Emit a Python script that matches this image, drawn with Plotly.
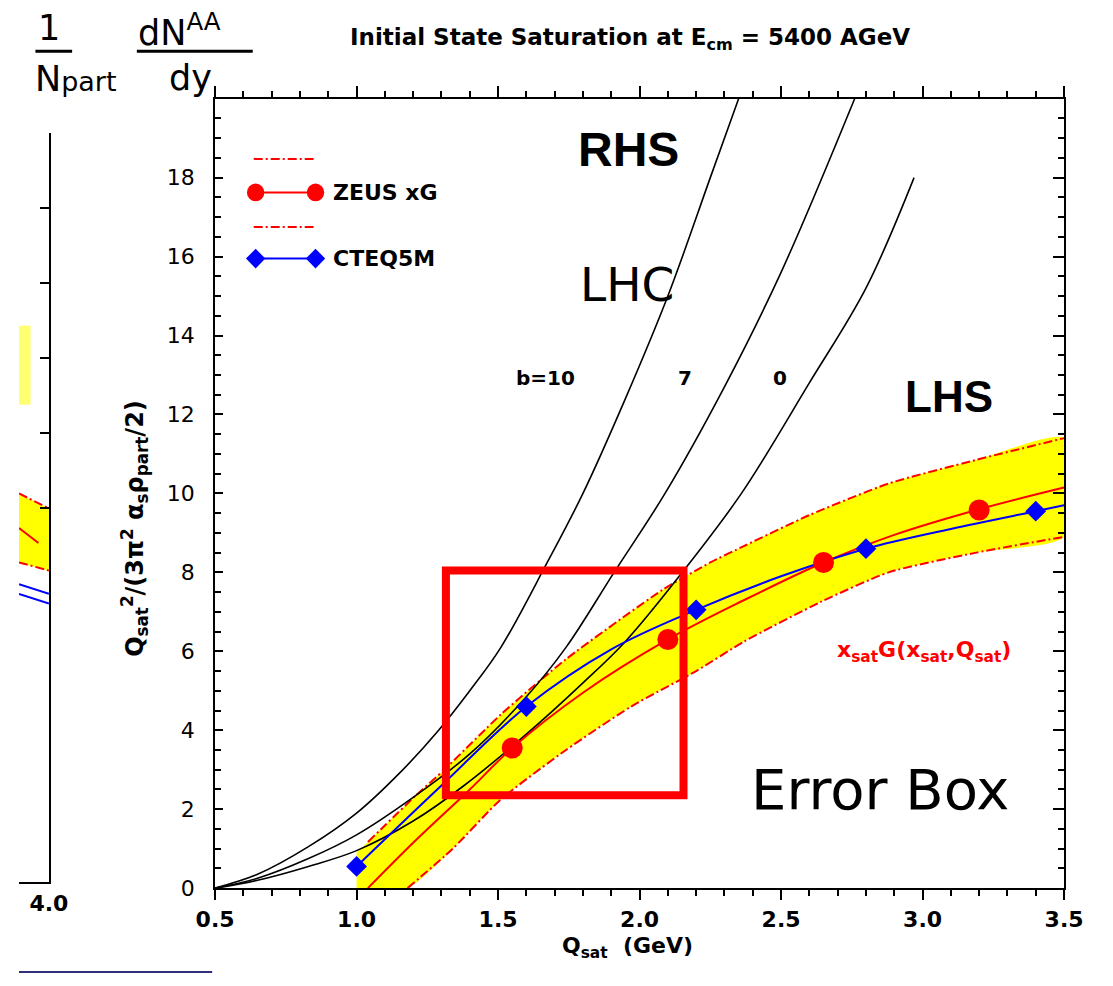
import plotly.graph_objects as go

W, H = 1113, 986

# ---------------- data ----------------
x_tick_vals = [0.5, 1.0, 1.5, 2.0, 2.5, 3.0, 3.5]
x_tick_text = ["0.5", "1.0", "1.5", "2.0", "2.5", "3.0", "3.5"]
y_tick_vals = [0, 2, 4, 6, 8, 10, 12, 14, 16, 18]
y_tick_text = ["0", "2", "4", "6", "8", "10", "12", "14", "16", "18"]

zeus_x = [1.55, 2.1, 2.65, 3.2]
zeus_y = [3.55, 6.3, 8.25, 9.58]
zeus_curve_x = [1.04, 1.2, 1.4, 1.55, 1.8, 2.1, 2.37, 2.65, 2.9, 3.2, 3.5]
zeus_curve_y = [0.0, 1.15, 2.5, 3.55, 4.95, 6.3, 7.3, 8.25, 8.95, 9.6, 10.15]

cteq_x = [1.0, 1.6, 2.2, 2.8, 3.4]
cteq_y = [0.55, 4.6, 7.05, 8.6, 9.55]
cteq_curve_x = [1.0, 1.3, 1.6, 1.9, 2.2, 2.5, 2.8, 3.1, 3.4, 3.5]
cteq_curve_y = [0.55, 2.6, 4.6, 6.05, 7.05, 7.9, 8.6, 9.1, 9.55, 9.7]

band_upper_x = [1.0, 1.04, 1.21, 1.31, 1.51, 1.74, 2.08, 2.25, 2.37, 2.6, 2.88, 3.19, 3.5]
band_upper_y = [0.9, 1.17, 2.35, 3.0, 4.4, 5.8, 7.55, 8.25, 8.67, 9.45, 10.25, 10.85, 11.4]
band_lower_x = [1.0, 1.18, 1.34, 1.51, 1.74, 1.97, 2.2, 2.37, 2.64, 2.88, 3.19, 3.5]
band_lower_y = [0.0, 0.0, 1.0, 2.25, 3.5, 4.6, 5.5, 6.25, 7.25, 8.0, 8.5, 8.9]

b10_x = [0.5, 0.65, 0.83, 1.0, 1.15, 1.29, 1.4, 1.51, 1.67, 1.8, 1.95, 2.1, 2.25, 2.35]
b10_y = [0.0, 0.35, 1.05, 1.9, 2.9, 4.0, 5.0, 6.1, 8.2, 10.0, 12.4, 15.0, 18.0, 20.0]
b7_x = [0.5, 0.65, 0.83, 1.0, 1.2, 1.4, 1.6, 1.74, 1.91, 2.09, 2.3, 2.5, 2.76]
b7_y = [0.0, 0.25, 0.75, 1.35, 2.3, 3.4, 4.85, 6.1, 8.0, 10.0, 12.7, 15.6, 20.0]
b0_x = [0.5, 0.65, 0.83, 1.0, 1.2, 1.38, 1.6, 1.8, 1.95, 2.14, 2.36, 2.6, 2.8, 2.97]
b0_y = [0.0, 0.2, 0.55, 0.95, 1.7, 2.6, 3.9, 5.2, 6.25, 7.9, 10.0, 12.8, 15.2, 18.0]

# fragment of the neighbouring panel on the left
left_x = [3.9, 4.0]
left_upper_y = [5.19, 4.99]
left_lower_y = [4.27, 4.16]
left_red_x = [3.9, 3.965]
left_red_y = [4.73, 4.53]
left_blue1_y = [3.98, 3.85]
left_blue2_y = [3.85, 3.72]

# ---------------- helpers ----------------
def px(x):
    return x / W


def py(y):
    return 1 - y / H


RED = "#ff0000"
BLUE = "#0000ff"
YEL = "#ffff00"
DASHDOT = "9px,3px,2px,3px"
SCAN = "DejaVu Sans"

fig = go.Figure()

# ---- main panel ----
fig.add_trace(go.Scatter(
    x=band_upper_x + band_lower_x[::-1], y=band_upper_y + band_lower_y[::-1],
    fill="toself", fillcolor=YEL, mode="lines",
    line=dict(width=0, shape="spline", smoothing=0.6), hoverinfo="skip"))
fig.add_trace(go.Scatter(x=band_upper_x[1:], y=band_upper_y[1:], mode="lines",
                         line=dict(color=RED, width=2, dash=DASHDOT,
                                   shape="spline", smoothing=0.6)))
fig.add_trace(go.Scatter(x=band_lower_x[1:], y=band_lower_y[1:], mode="lines",
                         line=dict(color=RED, width=2, dash=DASHDOT,
                                   shape="spline", smoothing=0.6)))
for bx, by in [(b10_x, b10_y), (b7_x, b7_y), (b0_x, b0_y)]:
    fig.add_trace(go.Scatter(x=bx, y=by, mode="lines", line_shape="spline",
                             line=dict(color="black", width=1.6)))
fig.add_trace(go.Scatter(x=zeus_curve_x, y=zeus_curve_y, mode="lines",
                         line_shape="spline", line=dict(color=RED, width=2)))
fig.add_trace(go.Scatter(x=cteq_curve_x, y=cteq_curve_y, mode="lines",
                         line_shape="spline", line=dict(color=BLUE, width=2)))
fig.add_trace(go.Scatter(x=zeus_x, y=zeus_y, mode="markers",
                         marker=dict(symbol="circle", size=21, color=RED)))
fig.add_trace(go.Scatter(x=cteq_x, y=cteq_y, mode="markers",
                         marker=dict(symbol="diamond", size=16, color=BLUE)))
# dummy traces to create the top / right tick axes
fig.add_trace(go.Scatter(x=[None], y=[None], xaxis="x2", yaxis="y", hoverinfo="skip"))
fig.add_trace(go.Scatter(x=[None], y=[None], xaxis="x", yaxis="y2", hoverinfo="skip"))

# ---- left fragment panel ----
fig.add_trace(go.Scatter(
    x=left_x + left_x[::-1], y=left_upper_y + left_lower_y[::-1],
    fill="toself", fillcolor=YEL, line=dict(width=0), mode="lines",
    xaxis="x3", yaxis="y3", hoverinfo="skip"))
for ly in (left_upper_y, left_lower_y):
    fig.add_trace(go.Scatter(x=left_x, y=ly, mode="lines", xaxis="x3", yaxis="y3",
                             line=dict(color=RED, width=2, dash=DASHDOT)))
fig.add_trace(go.Scatter(x=left_red_x, y=left_red_y, mode="lines", xaxis="x3", yaxis="y3",
                         line=dict(color=RED, width=2)))
for ly in (left_blue1_y, left_blue2_y):
    fig.add_trace(go.Scatter(x=left_x, y=ly, mode="lines", xaxis="x3", yaxis="y3",
                             line=dict(color=BLUE, width=2)))

XD = [px(203), px(1082)]
YD = [py(900), py(100)]
tickfont_b = dict(family=SCAN, size=22, color="black", weight="bold")
tickfont_r = dict(family=SCAN, size=22, color="black")

fig.update_layout(
    width=W, height=H, autosize=False, margin=dict(l=0, r=0, t=0, b=0, pad=0),
    paper_bgcolor="white", plot_bgcolor="white", showlegend=False,
    xaxis=dict(domain=XD, range=[0.5, 3.5], anchor="y", showgrid=False, zeroline=False,
               showline=True, linecolor="black", linewidth=2,
               tickmode="array", tickvals=x_tick_vals, ticktext=x_tick_text,
               ticks="outside", ticklen=10, tickwidth=1.5, tickcolor="black",
               tickfont=tickfont_b,
               minor=dict(dtick=0.1, tick0=0.5, ticks="outside", ticklen=6,
                          tickwidth=1.5, tickcolor="black", showgrid=False)),
    xaxis2=dict(domain=XD, range=[0.5, 3.5], overlaying="x", side="top", anchor="y",
                showgrid=False, zeroline=False, showline=True, linecolor="black",
                linewidth=2, tickmode="array", tickvals=x_tick_vals,
                showticklabels=False, ticks="outside", ticklen=11, tickwidth=1.5,
                tickcolor="black",
                minor=dict(dtick=0.1, tick0=0.5, ticks="outside", ticklen=6,
                           tickwidth=1.5, tickcolor="black", showgrid=False)),
    yaxis=dict(domain=YD, range=[0, 20], anchor="x", showgrid=False, zeroline=False,
               showline=True, linecolor="black", linewidth=2,
               tickmode="array", tickvals=y_tick_vals, ticktext=y_tick_text,
               ticks="inside", ticklen=8, tickwidth=1.5, tickcolor="black",
               tickfont=tickfont_r, ticklabelstandoff=14,
               minor=dict(dtick=0.5, tick0=0, ticks="inside", ticklen=6,
                          tickwidth=1.5, tickcolor="black", showgrid=False)),
    yaxis2=dict(domain=YD, range=[0, 20], overlaying="y", side="right", anchor="x",
                showgrid=False, zeroline=False, showline=True, linecolor="black",
                linewidth=2, tickmode="array", tickvals=y_tick_vals + [20],
                showticklabels=False, ticks="inside", ticklen=11, tickwidth=1.5,
                tickcolor="black",
                minor=dict(dtick=0.5, tick0=0, ticks="inside", ticklen=6,
                           tickwidth=1.5, tickcolor="black", showgrid=False)),
    xaxis3=dict(domain=[0, px(31)], range=[3.9, 4.0], anchor="y3", showgrid=False,
                zeroline=False, showline=True, linecolor="black", linewidth=2,
                tickmode="array", tickvals=[4.0], ticktext=["4.0"], ticks="inside",
                ticklen=10, tickwidth=1.5, tickcolor="black", tickfont=tickfont_b),
    yaxis3=dict(domain=[py(894), py(135)], range=[0, 10], anchor="x3", side="right",
                showgrid=False, zeroline=False, showline=True, linecolor="black",
                linewidth=2, tickmode="array", tickvals=[5, 6, 7, 8, 9],
                showticklabels=False, ticks="inside", ticklen=9, tickwidth=1.5,
                tickcolor="black"),
)

annotations = []


def ann(text, x, y, size, family=SCAN, bold=False, color="black",
        xanchor="center", yanchor="middle", angle=0):
    annotations.append(dict(
        text=text, x=px(x), y=py(y), xref="paper", yref="paper", showarrow=False,
        xanchor=xanchor, yanchor=yanchor, textangle=angle,
        font=dict(family=family, size=size, color=color,
                  weight="bold" if bold else "normal")))


ann("Initial State Saturation at E<sub>cm</sub> = 5400 AGeV", 633, 40, 23, bold=True)
ann("Q<sub>sat</sub>  (GeV)", 630, 960, 22, bold=True)
ann("Q<sub>sat</sub><sup>2</sup>/(3π<sup>2</sup> α<sub>s</sub>ρ<sub>part</sub>/2)",
    120, 535, 24, bold=True, angle=-90)
ann("ZEUS xG", 323, 195, 22, bold=True, xanchor="left")
ann("CTEQ5M", 323, 262, 22, bold=True, xanchor="left")
ann("b=10", 545, 383, 20, bold=True)
ann("7", 690, 383, 20, bold=True)
ann("0", 788, 383, 20, bold=True)
ann("x<sub>sat</sub>G(x<sub>sat</sub>,Q<sub>sat</sub>)", 937, 660, 22, bold=True, color=RED)
ann("RHS", 631, 152, 48, family="Liberation Sans", bold=True)
ann("LHC", 630, 288, 47)
ann("LHS", 963, 402, 44, family="Liberation Sans", bold=True)
ann("Error Box", 891, 800, 56)
ann("1", 31, 28, 35)
ann("N<span style='font-size:27px'>part</span>", 15, 80, 35, xanchor="left")
ann("dN<sup>AA</sup>", 121, 30, 35, xanchor="left")
ann("dy", 178, 79, 35)

shapes = []


def line(x0, y0, x1, y1, color="black", width=2, dash="solid"):
    shapes.append(dict(type="line", xref="paper", yref="paper",
                       x0=px(x0), y0=py(y0), x1=px(x1), y1=py(y1),
                       line=dict(color=color, width=width, dash=dash)))


# fraction bars
line(17, 52, 55, 52, width=3)
line(122, 52, 242, 52, width=3)
# legend glyphs
line(243, 161, 305, 161, color=RED, dash=DASHDOT)
line(243, 230, 305, 230, color=RED, dash=DASHDOT)
line(245, 195, 307, 195, color=RED)
line(245, 262, 307, 262, color=BLUE)
for cx in (245, 307):
    shapes.append(dict(type="circle", xref="paper", yref="paper",
                       x0=px(cx - 9), x1=px(cx + 9), y0=py(195 + 9), y1=py(195 - 9),
                       fillcolor=RED, line=dict(width=0)))
    path = "M {},{} L {},{} L {},{} L {},{} Z".format(
        px(cx - 10), py(262), px(cx), py(252), px(cx + 10), py(262), px(cx), py(272))
    shapes.append(dict(type="path", xref="paper", yref="paper", path=path,
                       fillcolor=BLUE, line=dict(width=0)))
# error box
shapes.append(dict(type="rect", xref="paper", yref="paper",
                   x0=px(442), x1=px(688), y0=py(806), y1=py(578),
                   line=dict(color=RED, width=8)))
# light yellow patch and navy line (left margin remnants)
shapes.append(dict(type="rect", xref="paper", yref="paper",
                   x0=px(0), x1=px(12), y0=py(410), y1=py(330),
                   fillcolor="#ffff70", line=dict(width=0)))
line(0, 985, 200, 985, color="#30307a", width=2)

fig.update_layout(annotations=annotations, shapes=shapes)

fig.write_html(
    "out.html",
    config={"responsive": False, "displayModeBar": False},
    post_script=("document.documentElement.style.margin='0';"
                 "document.body.style.margin='0';"
                 "document.documentElement.style.overflow='hidden';"
                 "document.body.style.overflow='hidden';"),
)
